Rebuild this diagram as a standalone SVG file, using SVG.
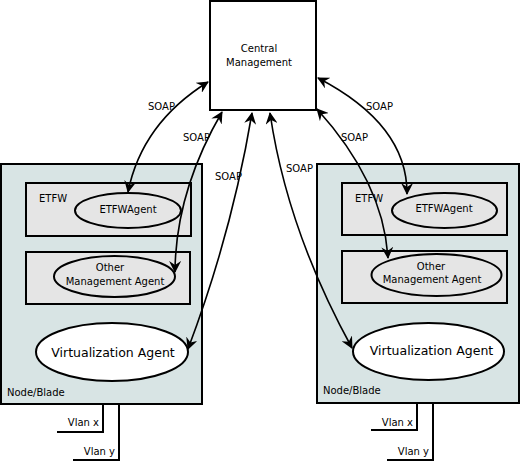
<svg xmlns="http://www.w3.org/2000/svg" width="521" height="464" viewBox="0 0 521 464">
<style>
text{font-family:"DejaVu Sans","Liberation Sans",sans-serif;font-size:10px;fill:#000}
.node{fill:#d8e4e4;stroke:#000;stroke-width:2}
.grp{fill:#e5e5e5;stroke:#000;stroke-width:2}
.agent{fill:#e5e5e5;stroke:#000;stroke-width:2}
.vagent{fill:#fff;stroke:#000;stroke-width:2}
.cm{fill:#fff;stroke:#000;stroke-width:2}
.conn{fill:none;stroke:#000;stroke-width:1.6;marker-start:url(#ah);marker-end:url(#ah)}
.wire{fill:none;stroke:#000;stroke-width:2}
.big{font-size:12.5px}
.m{text-anchor:middle}
.e{text-anchor:end}
</style>
<defs>
<marker id="ah" viewBox="0 0 12 12" refX="11" refY="6" markerWidth="12" markerHeight="12" markerUnits="userSpaceOnUse" orient="auto-start-reverse">
<path d="M0,0 L12,6 L0,12 L4,6 z" fill="#000"/>
</marker>
</defs>
<g id="central">
<rect class="cm" x="210" y="1" width="106" height="109"/>
<text class="m" x="259" y="52">Central</text>
<text class="m" x="259" y="66">Management</text>
</g>
<g id="nodeLeft">
<rect class="node" x="1" y="164" width="201" height="240"/>
<text x="7" y="396">Node/Blade</text>
</g>
<g id="etfwLeft">
<rect class="grp" x="26" y="183" width="165" height="53"/>
<text x="39" y="202">ETFW</text>
</g>
<g id="etfwAgentLeft">
<ellipse class="agent" cx="128" cy="210.5" rx="53" ry="17.5"/>
<text class="m" x="128" y="213">ETFWAgent</text>
</g>
<g id="otherLeft">
<rect class="grp" x="26" y="252" width="164" height="52"/>
</g>
<g id="otherAgentLeft">
<ellipse class="agent" cx="114.5" cy="276.5" rx="60.5" ry="20.5"/>
<text class="m" x="110" y="271">Other</text>
<text class="m" x="115" y="285">Management Agent</text>
</g>
<g id="virtLeft">
<ellipse class="vagent" cx="112" cy="352" rx="76" ry="29"/>
<text class="m big" x="113" y="357">Virtualization Agent</text>
</g>
<g id="vlanLeft">
<path class="wire" d="M103,404 V432 H57 M119,404 V460 H73"/>
<text class="e" x="99" y="426">Vlan x</text>
<text class="e" x="115" y="455">Vlan y</text>
</g>
<g id="nodeRight">
<rect class="node" x="317" y="164" width="202" height="239"/>
<text x="323" y="394">Node/Blade</text>
</g>
<g id="etfwRight">
<rect class="grp" x="342" y="183" width="165" height="52"/>
<text x="355" y="202">ETFW</text>
</g>
<g id="etfwAgentRight">
<ellipse class="agent" cx="444.5" cy="210.5" rx="52.5" ry="17.5"/>
<text class="m" x="444" y="212">ETFWAgent</text>
</g>
<g id="otherRight">
<rect class="grp" x="342" y="251" width="165" height="52"/>
</g>
<g id="otherAgentRight">
<ellipse class="agent" cx="436.5" cy="275" rx="65" ry="21"/>
<text class="m" x="431" y="270">Other</text>
<text class="m" x="432" y="283">Management Agent</text>
</g>
<g id="virtRight">
<ellipse class="vagent" cx="428.5" cy="351.5" rx="75.5" ry="28.5"/>
<text class="m big" x="431.5" y="355">Virtualization Agent</text>
</g>
<g id="vlanRight">
<path class="wire" d="M417,403 V430 H371 M433,403 V460 H387"/>
<text class="e" x="413" y="426">Vlan x</text>
<text class="e" x="429" y="455">Vlan y</text>
</g>
<g id="connectors">
<path class="conn" d="M208,82 Q142,123 128,192"/>
<path class="conn" d="M222,112 Q175.5,192 175,272"/>
<path class="conn" d="M252,113 Q232,232.5 188,349"/>
<path class="conn" d="M270,113 Q287,229.5 352,348"/>
<path class="conn" d="M317,109 Q383.5,182.5 388,258"/>
<path class="conn" d="M318,78 Q407.5,124.5 407,194"/>
<text x="148" y="110">SOAP</text>
<text x="183" y="141">SOAP</text>
<text x="215" y="180">SOAP</text>
<text x="286" y="172">SOAP</text>
<text x="341" y="141">SOAP</text>
<text x="366" y="110">SOAP</text>
</g>
</svg>
